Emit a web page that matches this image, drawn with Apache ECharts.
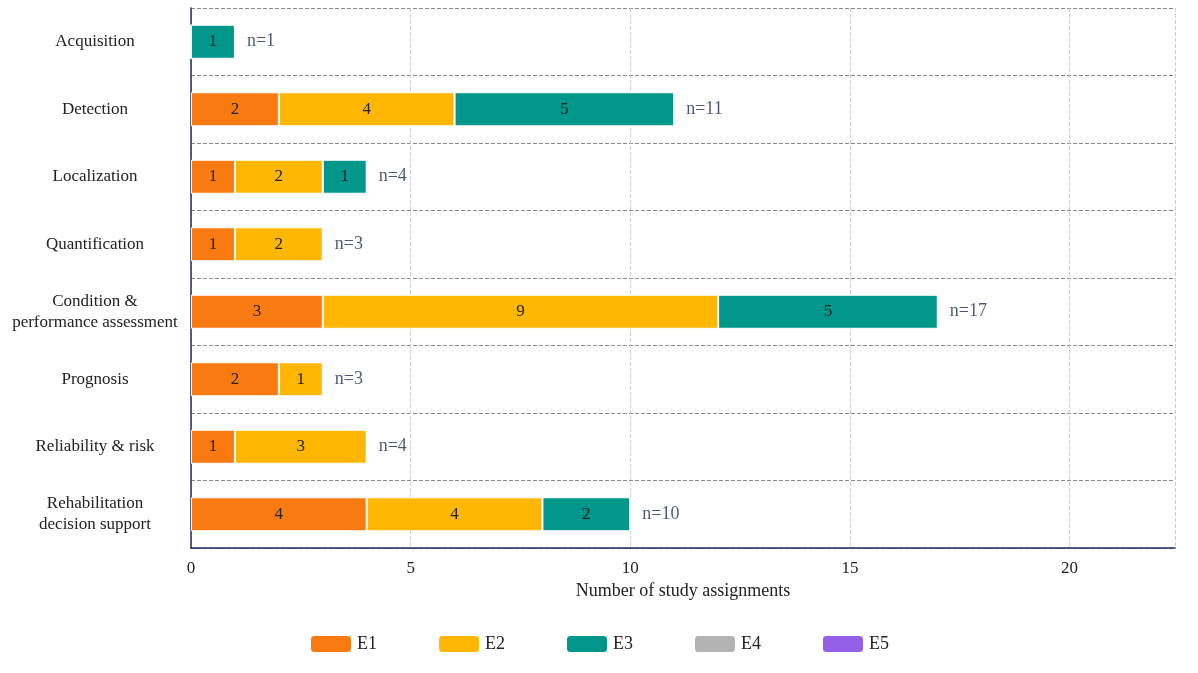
<!DOCTYPE html>
<html>
<head>
<meta charset="utf-8">
<script src="https://cdn.jsdelivr.net/npm/echarts@6/dist/echarts.min.js"></script>
<style>html,body{margin:0;background:#fff}#main{width:1198px;height:673px}</style>
</head>
<body>
<div id="main"></div>
<script>
var categories = ['Acquisition', 'Detection', 'Localization', 'Quantification',
  'Condition &\nperformance assessment', 'Prognosis', 'Reliability & risk',
  'Rehabilitation\ndecision support'];
var e1 = [0, 2, 1, 1, 3, 2, 1, 4];
var e2 = [0, 4, 2, 2, 9, 1, 3, 4];
var e3 = [1, 5, 1, 0, 5, 0, 0, 2];
var e4 = [0, 0, 0, 0, 0, 0, 0, 0];
var e5 = [0, 0, 0, 0, 0, 0, 0, 0];
var totals = [1, 11, 4, 3, 17, 3, 4, 10];

var font = 'Liberation Serif';
var colors = ['#fa7a12', '#ffb703', '#00978a', '#b3b3b3', '#9360e6'];

function seg(name, data, i) {
  return {
    name: name, type: 'bar', stack: 's', data: data, barWidth: 34,
    itemStyle: { color: colors[i], borderColor: '#fff', borderWidth: 1 },
    label: { show: true, color: '#222', fontFamily: font, fontSize: 17,
      formatter: function (p) { return p.value > 0 ? p.value : ''; } }
  };
}

var chart = echarts.init(document.getElementById('main'));
chart.setOption({
  textStyle: { fontFamily: font },
  grid: { left: 191, right: 23, top: 8, bottom: 125 },
  legend: {
    bottom: 14, itemWidth: 42, itemHeight: 18, itemGap: 60,
    data: ['E1', 'E2', 'E3', 'E4', 'E5'],
    textStyle: { fontFamily: font, fontSize: 18, color: '#222' }
  },
  xAxis: {
    type: 'value', min: 0, max: 22.4, interval: 5,
    name: 'Number of study assignments', nameLocation: 'middle', nameGap: 34,
    nameTextStyle: { fontFamily: font, fontSize: 18, color: '#222' },
    axisLine: { show: true, lineStyle: { color: '#1f2a5a', width: 1.5 } },
    axisTick: { show: false },
    axisLabel: { fontFamily: font, fontSize: 17, color: '#222', margin: 12, showMaxLabel: false },
    splitLine: { lineStyle: { type: 'dashed', color: '#ccc' } }
  },
  yAxis: {
    type: 'category', inverse: true, data: categories,
    axisLine: { lineStyle: { color: '#1f2a5a', width: 1.5 } },
    axisTick: { show: false },
    axisLabel: { margin: 6,
      formatter: function (v) { return '{a|' + v.split('\n').join('}\n{a|') + '}'; },
      rich: { a: { fontFamily: font, fontSize: 17, color: '#222', width: 180, align: 'center', lineHeight: 21 } } },
    splitLine: { show: true, lineStyle: { type: 'dashed', color: '#888' } }
  },
  series: [
    seg('E1', e1, 0), seg('E2', e2, 1), seg('E3', e3, 2), seg('E4', e4, 3), seg('E5', e5, 4),
    {
      type: 'scatter', symbolSize: 0, silent: true,
      data: totals.map(function (t, i) { return [t, i]; }),
      label: { show: true, position: 'right', distance: 12, color: '#1f2a5a',
        fontFamily: font, fontSize: 18,
        formatter: function (p) { return 'n=' + p.value[0]; } }
    }
  ]
});
</script>
</body>
</html>
